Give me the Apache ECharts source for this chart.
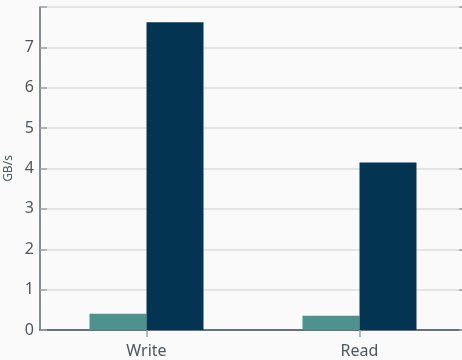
<!DOCTYPE html>
<html>
<head>
<meta charset="utf-8">
<script src="https://cdn.jsdelivr.net/npm/echarts@6/dist/echarts.min.js"></script>
<style>
  html, body { margin: 0; padding: 0; background: #fafafa; }
  #chart { width: 462px; height: 360px; }
</style>
</head>
<body>
<div id="chart"></div>
<script>
// Throughput per operation, two configurations side by side
const categories = ['Write', 'Read'];
const baselineValues = [0.40, 0.35];
const optimizedValues = [7.62, 4.15];
const yTicks = [0, 1, 2, 3, 4, 5, 6, 7, 8];

const axisColor = '#5d6b70';
const textColor = '#4b5860';
const font = 'Noto Sans';

const chart = echarts.init(document.getElementById('chart'), null, { renderer: 'canvas' });

chart.setOption({
  backgroundColor: '#fafafa',
  animation: false,
  grid: { left: 40, top: 7, width: 426, bottom: 30, containLabel: false, outerBoundsMode: 'none' },
  xAxis: [
    {
      type: 'category',
      data: categories,
      position: 'bottom',
      axisLine: { lineStyle: { color: axisColor, width: 1.5 } },
      axisTick: { show: true, alignWithLabel: true, inside: false, length: 7, lineStyle: { color: '#9aa3a6', width: 1.5 } },
      axisLabel: { color: textColor, fontSize: 16, fontFamily: font, margin: 13 },
      splitLine: { show: false }
    },
    {
      type: 'category',
      data: categories,
      position: 'top',
      axisLine: { lineStyle: { color: axisColor, width: 1.5 } },
      axisTick: { show: true, alignWithLabel: true, inside: true, length: 7, lineStyle: { color: '#9aa3a6', width: 1.5 } },
      axisLabel: { show: false },
      splitLine: { show: false }
    }
  ],
  yAxis: [
    {
      type: 'value',
      min: yTicks[0],
      max: yTicks[yTicks.length - 1],
      interval: 1,
      position: 'left',
      name: 'GB/s',
      nameLocation: 'middle',
      nameRotate: 90,
      nameGap: 25,
      nameMoveOverlap: false,
      nameTextStyle: { color: textColor, fontSize: 12, fontFamily: font },
      axisLine: { show: true, lineStyle: { color: axisColor, width: 1.5 } },
      axisTick: { show: true, inside: true, length: 7, lineStyle: { color: '#9aa3a6', width: 1.5 } },
      axisLabel: {
        color: textColor, fontSize: 16, fontFamily: font, margin: 6,
        formatter: v => (v === yTicks[yTicks.length - 1] ? '' : String(v))
      },
      splitLine: { show: true, lineStyle: { color: '#dcdcdc', width: 1.5 } }
    },
    {
      type: 'value',
      min: yTicks[0],
      max: yTicks[yTicks.length - 1],
      interval: 1,
      position: 'right',
      axisLine: { show: true, lineStyle: { color: axisColor, width: 1.5 } },
      axisTick: { show: true, inside: true, length: 7, lineStyle: { color: '#9aa3a6', width: 1.5 } },
      axisLabel: { show: false },
      splitLine: { show: false }
    }
  ],
  series: [
    {
      type: 'bar',
      data: baselineValues,
      barWidth: 57,
      barGap: '0%',
      itemStyle: { color: '#4f918c' }
    },
    {
      type: 'bar',
      data: optimizedValues,
      barWidth: 57,
      barGap: '0%',
      itemStyle: { color: '#033452' }
    }
  ]
});
</script>
</body>
</html>
